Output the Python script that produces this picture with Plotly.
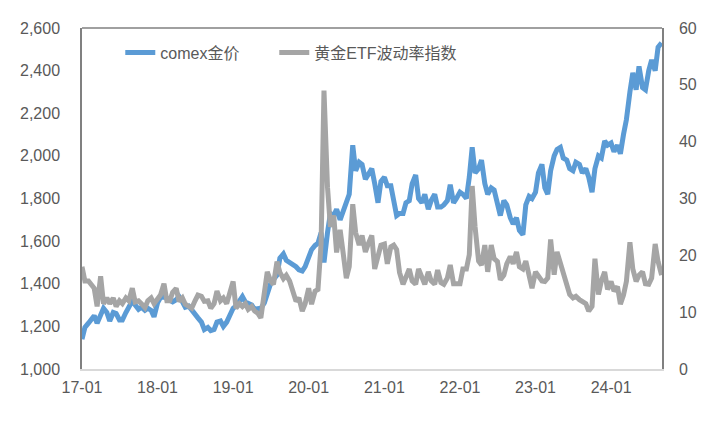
import pandas as pd
import plotly.graph_objects as go

# semi-monthly sampling dates (1st / 15th)
dates = pd.date_range("2017-01-01", "2024-09-01", freq="SMS")

# comex gold price, USD/oz (left axis)
gold_2017 = [1140, 1195, 1215, 1235, 1250, 1215, 1250, 1285, 1265, 1225, 1265, 1260, 1230, 1230, 1265, 1290, 1320, 1300, 1280, 1290, 1275, 1285, 1275, 1245]
gold_2018 = [1310, 1335, 1340, 1330, 1320, 1315, 1325, 1340, 1315, 1290, 1295, 1275, 1255, 1240, 1220, 1185, 1195, 1180, 1185, 1220, 1225, 1200, 1220, 1250]
gold_2019 = [1285, 1295, 1320, 1340, 1315, 1305, 1300, 1280, 1285, 1285, 1310, 1350, 1400, 1420, 1440, 1520, 1540, 1510, 1500, 1495, 1480, 1465, 1460, 1480]
gold_2020 = [1530, 1560, 1580, 1590, 1640, 1500, 1640, 1730, 1720, 1750, 1700, 1740, 1790, 1820, 2050, 1930, 1970, 1960, 1890, 1910, 1940, 1870, 1780, 1880]
gold_2021 = [1900, 1860, 1860, 1790, 1720, 1730, 1730, 1780, 1790, 1870, 1910, 1800, 1780, 1820, 1750, 1790, 1820, 1760, 1760, 1770, 1790, 1865, 1780, 1800]
gold_2022 = [1830, 1820, 1800, 1900, 2040, 1920, 1940, 1980, 1870, 1820, 1850, 1840, 1780, 1720, 1790, 1770, 1710, 1680, 1710, 1650, 1630, 1770, 1810, 1800]
gold_2023 = [1830, 1920, 1960, 1850, 1820, 1930, 2000, 2030, 2040, 1990, 1980, 1940, 1930, 1970, 1960, 1920, 1940, 1900, 1830, 1940, 2000, 1990, 2070, 2050]
gold_2024 = [2060, 2020, 2050, 2010, 2100, 2170, 2300, 2390, 2310, 2420, 2320, 2310, 2400, 2450, 2400, 2510, 2530]

# gold ETF volatility index (right axis)
vol_2017 = [18, 15.5, 15.5, 15, 14.2, 11, 16.3, 11.5, 12.5, 11.5, 12.5, 11, 12, 11.5, 12.5, 12, 14.2, 11.8, 12, 11.5, 10.8, 12, 12.5, 11.5]
vol_2018 = [12.5, 13, 15, 12, 12, 13.5, 14.2, 11.9, 12.5, 11.4, 11, 10.7, 12, 13, 12.8, 11.9, 12, 10.7, 11.5, 13.7, 12, 12.5, 11.5, 13]
vol_2019 = [15.4, 10.7, 11.5, 11, 11.5, 10.5, 11, 10.2, 9.8, 9.0, 14, 17.1, 15.5, 14.9, 18.9, 17, 15.9, 16.5, 15.5, 13.5, 11.9, 12.5, 10.2, 11.5]
vol_2020 = [14.2, 11.4, 13.7, 14, 22, 49, 32, 25, 27, 20.5, 24.5, 20.6, 16, 18, 29, 24, 21.8, 23.5, 20.6, 22, 23.5, 17.6, 20, 21.8]
vol_2021 = [22, 18.5, 21.5, 21.8, 21, 17, 14.9, 16, 17.6, 15.5, 14.9, 17.6, 16, 14.9, 17.1, 15.5, 14.9, 17.4, 15.2, 14.9, 16, 18.3, 15, 14.9]
vol_2022 = [15, 17.6, 17.6, 20.1, 32.2, 25, 19, 18.3, 21.8, 17.1, 21.8, 19.4, 18.9, 15.7, 16.5, 18.5, 19.8, 18.5, 20.6, 18, 17.6, 19, 16.5, 14.2]
vol_2023 = [17.1, 16.5, 15.5, 15.4, 16, 22.8, 16.6, 20.6, 18.5, 17.1, 14.5, 13.1, 12.5, 12.8, 12.2, 11.9, 11.5, 10.2, 11, 19.4, 13.1, 15.5, 17.1, 14]
vol_2024 = [15.4, 13.7, 14.5, 11.4, 13, 15.4, 22.3, 17.6, 15.4, 16.5, 17.1, 15, 14.9, 16, 22, 18.9, 16.5]

gold = gold_2017 + gold_2018 + gold_2019 + gold_2020 + gold_2021 + gold_2022 + gold_2023 + gold_2024
vol = vol_2017 + vol_2018 + vol_2019 + vol_2020 + vol_2021 + vol_2022 + vol_2023 + vol_2024

tick_dates = ["2017-01-01", "2018-01-01", "2019-01-01", "2020-01-01",
              "2021-01-01", "2022-01-01", "2023-01-01", "2024-01-01"]
tick_labels = ["17-01", "18-01", "19-01", "20-01", "21-01", "22-01", "23-01", "24-01"]

font = "Liberation Sans, Noto Sans CJK SC, sans-serif"
txt = "#595959"
axis_col = "#808080"

fig = go.Figure()
fig.add_trace(go.Scatter(x=dates, y=gold, name="comex金价", mode="lines",
                         line=dict(color="#5B9BD5", width=5), legend="legend"))
fig.add_trace(go.Scatter(x=dates, y=vol, name="黄金ETF波动率指数", mode="lines",
                         line=dict(color="#A5A5A5", width=5), yaxis="y2", legend="legend2"))

# page body adds an 8px offset, so the figure is 8px smaller and margins shifted
fig.update_layout(
    width=708, height=425,
    margin=dict(l=66, r=54, t=14, b=64),
    paper_bgcolor="white", plot_bgcolor="white",
    font=dict(family=font, size=16, color=txt),
    showlegend=True,
    legend=dict(x=0.066, y=0.928, xanchor="left", yanchor="middle",
                bgcolor="rgba(0,0,0,0)", font=dict(size=16, color=txt)),
    legend2=dict(x=0.3315, y=0.928, xanchor="left", yanchor="middle",
                 bgcolor="rgba(0,0,0,0)", font=dict(size=16, color=txt)),
    xaxis=dict(range=["2017-01-01", "2024-09-03"], tickvals=tick_dates, ticktext=tick_labels,
               showgrid=False, zeroline=False, showline=True, linecolor="#d9d9d9", linewidth=1.5,
               ticks="", ticklabelstandoff=3),
    yaxis=dict(range=[1000, 2600], dtick=200, tickformat=",", showgrid=False, zeroline=False,
               showline=True, linecolor=axis_col, linewidth=1.5, ticks="", ticklabelstandoff=17),
    yaxis2=dict(range=[0, 60], dtick=10, overlaying="y", side="right", showgrid=False,
                zeroline=False, showline=True, linecolor=axis_col, linewidth=1.5, ticks="",
                ticklabelstandoff=12),
    shapes=[dict(type="line", xref="paper", yref="paper", x0=0, x1=1, y0=1, y1=1,
                 line=dict(color=axis_col, width=1.5))],
)

fig.write_html("out.html")
